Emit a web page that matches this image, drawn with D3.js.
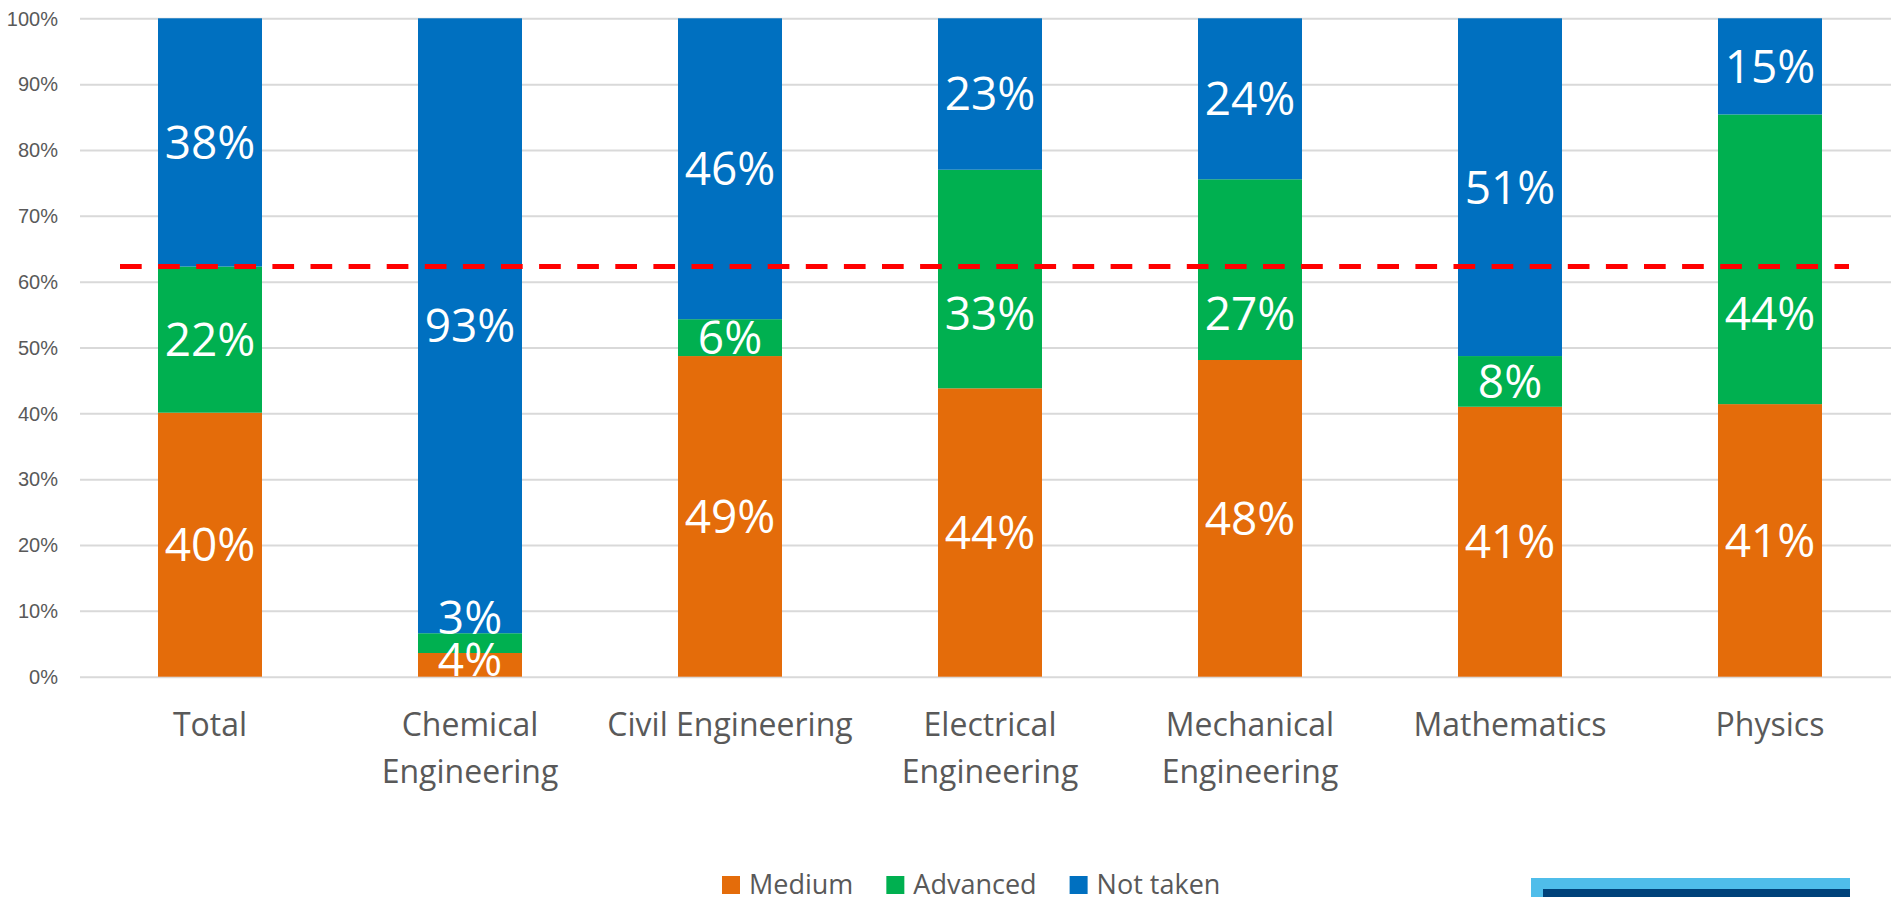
<!DOCTYPE html>
<html>
<head>
<meta charset="utf-8">
<script src="https://cdn.jsdelivr.net/npm/d3@7"></script>
<style>
  html, body { margin: 0; padding: 0; background: #ffffff; overflow: hidden; }
  svg { display: block; font-family: "Open Sans", "Noto Sans", sans-serif; }
</style>
</head>
<body>
<svg id="chart" width="1891" height="897"></svg>
<script>
// Share of students by course level, per programme (percent)
const categories = ["Total", "Chemical Engineering", "Civil Engineering", "Electrical Engineering",
                    "Mechanical Engineering", "Mathematics", "Physics"];
const medium   = [40.1, 3.6, 48.7, 43.8, 48.1, 41.0, 41.4];
const advanced = [22.2, 3.0, 5.6, 33.2, 27.45, 7.7, 44.0];
const notTaken = [37.7, 93.4, 45.7, 23.0, 24.45, 51.3, 14.6];
const seriesNames = ["Medium", "Advanced", "Not taken"];
const seriesColors = ["#E46C0A", "#00B050", "#0070C0"];
const yTicks = [0, 10, 20, 30, 40, 50, 60, 70, 80, 90, 100];
const yTickLabels = ["0%", "10%", "20%", "30%", "40%", "50%", "60%", "70%", "80%", "90%", "100%"];
// Overall share that took the course (Medium + Advanced, Total)
const referenceShare = 62.3;

const W = 1891, H = 897;
const plot = { left: 80, right: 1900, top: 18.3, bottom: 676.7 };

const svg = d3.select("#chart");

const rows = categories.map((c, i) => ({
  category: c, "Medium": medium[i], "Advanced": advanced[i], "Not taken": notTaken[i]
}));

const x = d3.scaleBand()
  .domain(categories)
  .range([plot.left, plot.right])
  .paddingInner(0.6)
  .paddingOuter(0.3);

const y = d3.scaleLinear()
  .domain([0, 100])
  .range([plot.bottom, plot.top]);

const color = d3.scaleOrdinal().domain(seriesNames).range(seriesColors);

// Horizontal gridlines and percentage labels
const yAxis = d3.axisLeft(y)
  .tickValues(yTicks)
  .tickFormat((d, i) => yTickLabels[i])
  .tickSize(-(W - plot.left))
  .tickPadding(22);

const gy = svg.append("g")
  .attr("transform", `translate(${plot.left},0)`)
  .call(yAxis);
gy.select(".domain").remove();
gy.selectAll(".tick line").attr("stroke", "#D9D9D9").attr("stroke-width", 2);
gy.selectAll(".tick text")
  .attr("fill", "#595959")
  .style("font-size", "20px")
  .attr("dy", "0.34em");

// Stacked bars
const stacked = d3.stack().keys(seriesNames)(rows);

const layers = svg.append("g").selectAll("g.layer")
  .data(stacked)
  .join("g")
  .attr("class", "layer")
  .attr("fill", d => color(d.key));

layers.selectAll("rect")
  .data(d => d.map(s => ({ key: d.key, s })))
  .join("rect")
  .attr("x", d => x(d.s.data.category))
  .attr("width", x.bandwidth())
  .attr("y", d => y(d.s[1]))
  .attr("height", d => y(d.s[0]) - y(d.s[1]));

// Value labels centred in each segment; a label sitting on the reference line
// is dropped just below it, and stacked labels that would collide are nudged up
const labelSize = 46;
const minGap = 42;
const lineY = y(referenceShare);
const labels = [];
categories.forEach((c, i) => {
  let prevCenter = null;
  stacked.forEach(layer => {
    const s = layer[i];
    const value = s[1] - s[0];
    let cy = (y(s[0]) + y(s[1])) / 2;
    if (Math.abs(cy - lineY) < 30) cy = lineY + 47;
    cy = Math.min(cy, plot.bottom - 17);
    if (prevCenter !== null && prevCenter - cy < minGap) cy = prevCenter - minGap;
    prevCenter = cy;
    labels.push({ cx: x(c) + x.bandwidth() / 2, cy, text: Math.round(value) + "%" });
  });
});

svg.append("g").selectAll("text")
  .data(labels)
  .join("text")
  .attr("x", d => d.cx)
  .attr("y", d => d.cy)
  .attr("dy", "0.357em")
  .attr("text-anchor", "middle")
  .attr("fill", "#ffffff")
  .style("font-size", labelSize + "px")
  .text(d => d.text);

// Category axis labels, wrapped to fit the band
const catSize = 32;
const catG = svg.append("g");
categories.forEach(c => {
  const t = catG.append("text")
    .attr("x", x(c) + x.bandwidth() / 2)
    .attr("y", 736)
    .attr("text-anchor", "middle")
    .attr("fill", "#595959")
    .style("font-size", catSize + "px");
  const words = c.split(" ");
  let line = [];
  let tspan = t.append("tspan").attr("x", x(c) + x.bandwidth() / 2).attr("dy", 0);
  words.forEach(w => {
    line.push(w);
    tspan.text(line.join(" "));
    if (tspan.node().getComputedTextLength() > 255 && line.length > 1) {
      line.pop();
      tspan.text(line.join(" "));
      line = [w];
      tspan = t.append("tspan").attr("x", x(c) + x.bandwidth() / 2).attr("dy", 46.5).text(w);
    }
  });
});

// Dashed reference line for the overall share
svg.append("line")
  .attr("x1", 120)
  .attr("x2", 1849)
  .attr("y1", lineY)
  .attr("y2", lineY)
  .attr("stroke", "#FF0000")
  .attr("stroke-width", 5)
  .attr("stroke-dasharray", "21.7,16.4");

// Legend
const legend = svg.append("g");
let lx = 722;
seriesNames.forEach(name => {
  legend.append("rect")
    .attr("x", lx).attr("y", 876)
    .attr("width", 18).attr("height", 18)
    .attr("fill", color(name));
  const t = legend.append("text")
    .attr("x", lx + 27).attr("y", 894)
    .attr("fill", "#595959")
    .style("font-size", "27px")
    .text(name);
  lx = lx + 27 + t.node().getComputedTextLength() + 33;
});

// Footer band in the lower right corner
svg.append("rect").attr("x", 1531).attr("y", 878).attr("width", 319).attr("height", 19).attr("fill", "#4FBDEA");
svg.append("rect").attr("x", 1543).attr("y", 889).attr("width", 307).attr("height", 8).attr("fill", "#00427A");
</script>
</body>
</html>
